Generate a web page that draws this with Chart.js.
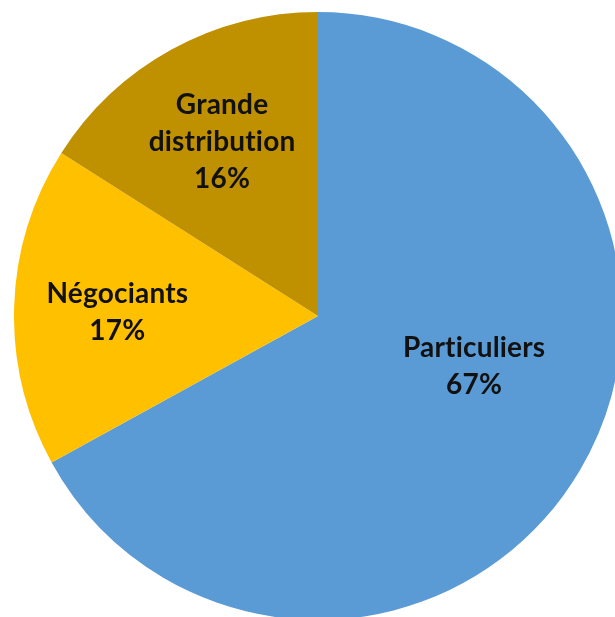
<!DOCTYPE html>
<html>
<head>
<meta charset="utf-8">
<script src="https://cdn.jsdelivr.net/npm/chart.js@4"></script>
<style>
  html, body { margin: 0; padding: 0; background: #fff; overflow: hidden; width: 615px; height: 617px; }
  #wrap { position: absolute; left: 14px; top: 12px; width: 608px; height: 608px; }
</style>
</head>
<body>
<div id="wrap"><canvas id="pieChart" width="608" height="608"></canvas></div>
<script>
// Répartition des ventes par canal
const categories = ['Particuliers', 'Négociants', 'Grande distribution'];
const shares = [67, 17, 16];
const colors = ['#5B9BD5', '#FFC000', '#BF9000'];

// label text split on lines, e.g. "Grande distribution" -> two lines
const labelLines = [['Particuliers'], ['Négociants'], ['Grande', 'distribution']];

// draws the category + percent inside each slice (like Excel data labels)
const insideLabels = {
  id: 'insideLabels',
  afterDatasetsDraw(chart, args, opts) {
    const ctx = chart.ctx;
    const meta = chart.getDatasetMeta(0);
    const total = shares.reduce((a, b) => a + b, 0);
    ctx.save();
    ctx.font = opts.font;
    ctx.fillStyle = opts.color;
    ctx.textAlign = 'center';
    ctx.textBaseline = 'middle';
    // tiny spacing so Lato does not merge "ti" into a ligature
    if ('letterSpacing' in ctx) ctx.letterSpacing = '0.2px';
    meta.data.forEach((arc, i) => {
      const p = arc.getProps(['x', 'y', 'startAngle', 'endAngle', 'outerRadius'], true);
      const mid = (p.startAngle + p.endAngle) / 2 + (opts.angleShift[i] || 0);
      const r = p.outerRadius * opts.dist[i];
      const cx = p.x + Math.cos(mid) * r;
      const cy = p.y + Math.sin(mid) * r;
      const lines = labelLines[i].concat([Math.round(shares[i] / total * 100) + '%']);
      const top = cy - (lines.length - 1) * opts.lineHeight / 2;
      lines.forEach((t, k) => ctx.fillText(t, cx, top + k * opts.lineHeight));
    });
    ctx.restore();
  }
};

const pieChart = new Chart(document.getElementById('pieChart').getContext('2d'), {
  type: 'pie',
  data: {
    labels: categories,
    datasets: [
      {
        data: shares,
        backgroundColor: colors,
        borderWidth: 0,
      },
    ],
  },
  options: {
    responsive: false,
    animation: false,
    layout: { padding: 0 },
    plugins: {
      legend: { display: false },
      tooltip: { enabled: false },
      insideLabels: {
        font: 'bold 28px Lato',
        color: '#111',
        lineHeight: 37,
        dist: [0.54, 0.66, 0.655],
        angleShift: [-0.22, -0.015, 0],
      },
    },
  },
  plugins: [insideLabels],
});
</script>
</body>
</html>
